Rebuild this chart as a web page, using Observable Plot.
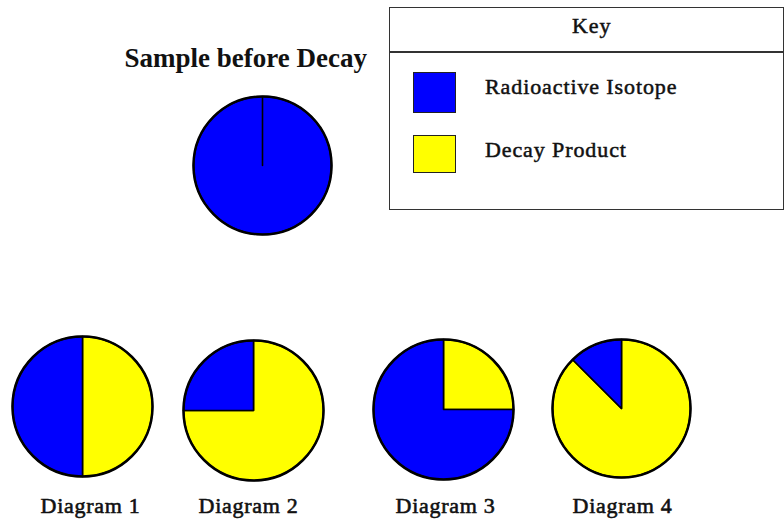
<!DOCTYPE html>
<html>
<head>
<meta charset="utf-8">
<script src="https://cdn.jsdelivr.net/npm/d3@7"></script>
<script src="https://cdn.jsdelivr.net/npm/@observablehq/plot@0.6"></script>
<style>
  body { margin: 0; background: #fff; }
  #wrap { position: relative; width: 784px; height: 522px; overflow: hidden; background: #fff;
          font-family: "Liberation Serif", "Times New Roman", serif; color: #111; }
  #chart { position: absolute; left: 0; top: 0; }
  .abs { position: absolute; white-space: nowrap; }
  .keytxt { font-size: 22px; line-height: 22px; letter-spacing: 0.9px; -webkit-text-stroke: 0.5px #111; }
</style>
</head>
<body>
<div id="wrap">
  <div id="chart"></div>
</div>
<script>
// ---- data ----
const categories = ["Radioactive Isotope", "Decay Product"];
const colors = ["#0000ff", "#ffff00"];
const diagrams = ["Sample before Decay", "Diagram 1", "Diagram 2", "Diagram 3", "Diagram 4"];
const isotopeShare = [1, 0.5, 0.25, 0.75, 0.125];
const decayShare = [0, 0.5, 0.75, 0.25, 0.875];

// ---- layout (pixel positions) ----
const centerX = [262, 82, 253, 443, 621];
const centerY = [165, 406, 410, 409, 408];
const radius = [69, 70, 70, 70, 69];
const labelX = [124, 90, 248, 445, 622];
const labelY = [66, 512, 512, 512, 512];

// ---- build slice polygons with d3.pie (clockwise from 12 o'clock) ----
const pie = d3.pie().sort(null).value(d => d.value);
const slicePts = [];
diagrams.forEach((name, i) => {
  const parts = [
    {category: categories[1], value: decayShare[i]},
    {category: categories[0], value: isotopeShare[i]}
  ];
  pie(parts).forEach((arc, j) => {
    if (arc.data.value <= 0) return;
    const id = i + "-" + j;
    const cx = centerX[i], cy = centerY[i], r = radius[i];
    slicePts.push({id, category: arc.data.category, x: cx, y: cy});
    const n = Math.max(2, Math.ceil((arc.endAngle - arc.startAngle) / (Math.PI / 90)));
    for (let k = 0; k <= n; k++) {
      const a = arc.startAngle + (arc.endAngle - arc.startAngle) * k / n;
      slicePts.push({id, category: arc.data.category, x: cx + r * Math.sin(a), y: cy - r * Math.cos(a)});
    }
  });
});

const idx = d3.range(diagrams.length);
const fontFamily = "'Liberation Serif', 'Times New Roman', serif";

const svg = Plot.plot({
  width: 784,
  height: 522,
  margin: 0,
  x: {type: "identity", axis: null},
  y: {type: "identity", axis: null},
  r: {type: "identity"},
  color: {domain: categories, range: colors},
  style: {background: "transparent"},
  marks: [
    Plot.line(slicePts, {x: "x", y: "y", z: "id", fill: "category", stroke: "#000",
      strokeWidth: 1.6, curve: "linear-closed", strokeLinejoin: "round"}),
    Plot.dot(idx, {x: i => centerX[i], y: i => centerY[i], r: i => radius[i],
      fill: "none", stroke: "#000", strokeWidth: 2.5}),
    Plot.text([0], {x: i => labelX[i], y: i => labelY[i], text: i => diagrams[i],
      textAnchor: "start", lineAnchor: "bottom", fontSize: 27, fontWeight: "bold",
      fontFamily, fill: "#111"}),
    Plot.text(idx.slice(1), {x: i => labelX[i], y: i => labelY[i], text: i => diagrams[i],
      textAnchor: "middle", lineAnchor: "bottom", fontSize: 22, fontFamily, fill: "#111",
      stroke: "#111", strokeWidth: 0.6})
  ]
});
d3.select(svg).selectAll("text")
  .filter(function() { return /^Diagram/.test(this.textContent); })
  .style("letter-spacing", "0.7px");
document.getElementById("chart").appendChild(svg);

// ---- key (legend) ----
const wrap = document.getElementById("wrap");
function addDiv(style, cls, text) {
  const d = document.createElement("div");
  d.className = "abs " + (cls || "");
  Object.assign(d.style, style);
  if (text) d.textContent = text;
  wrap.appendChild(d);
  return d;
}
addDiv({left: "389px", top: "7px", width: "395px", height: "203px", boxSizing: "border-box",
  border: "1.5px solid #333"});
addDiv({left: "389px", top: "51px", width: "395px", height: "1.5px", background: "#333"});
addDiv({left: "572px", top: "14.6px"}, "keytxt", "Key");
const swatchTop = [72, 135];
const swatchH = [41, 38];
const textTop = [75.6, 138.6];
categories.forEach((c, k) => {
  addDiv({left: "413px", top: swatchTop[k] + "px", width: "43px", height: swatchH[k] + "px",
    boxSizing: "border-box", background: colors[k], border: "1.5px solid #222"});
  addDiv({left: "485px", top: textTop[k] + "px"}, "keytxt", c);
});
</script>
</body>
</html>
